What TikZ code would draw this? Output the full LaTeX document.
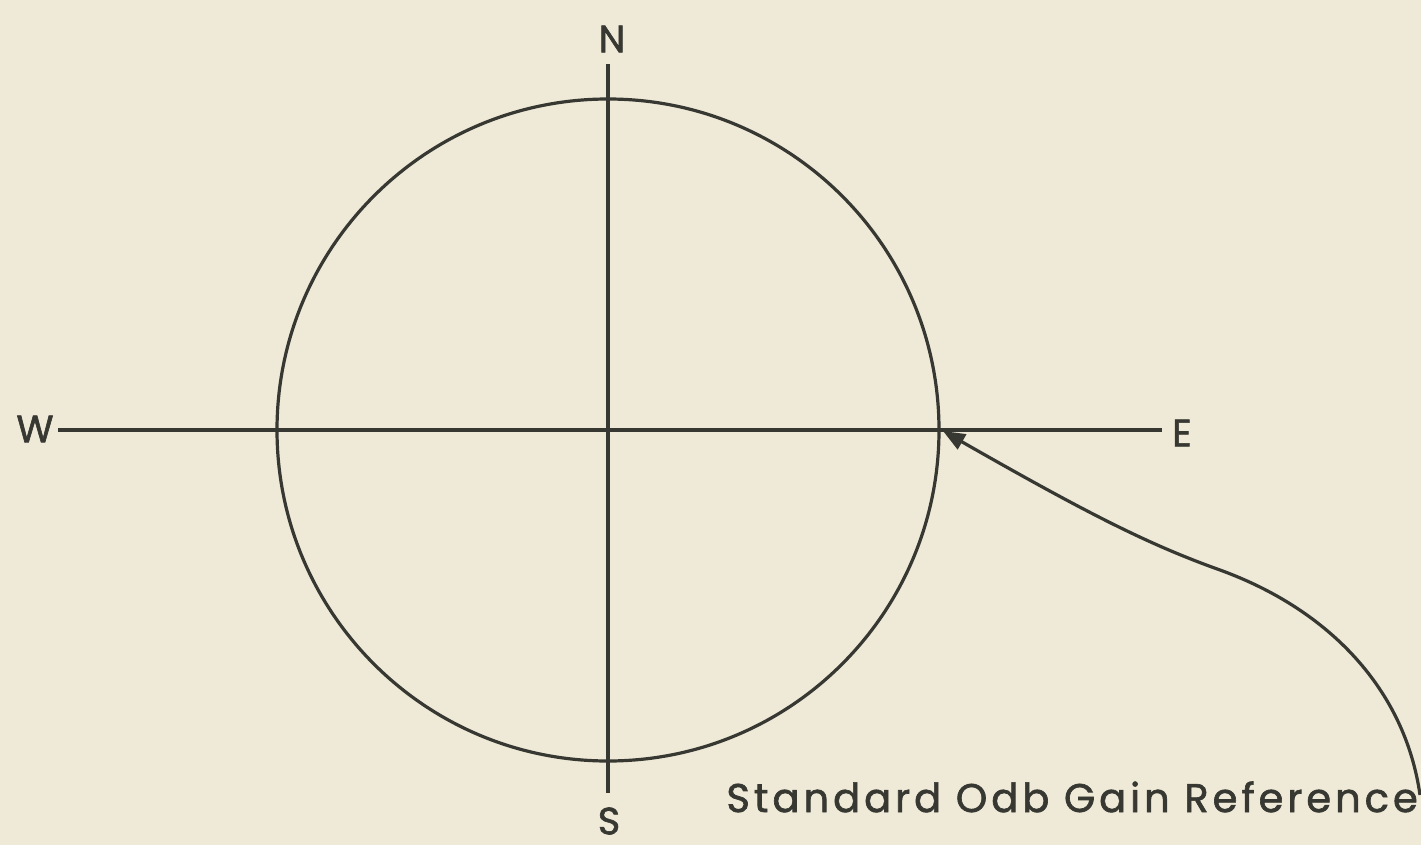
\documentclass[tikz,border=0pt]{standalone}
\usepackage{fontspec}
\setmainfont{Poppins}[FakeBold=1.6]
\usetikzlibrary{arrows.meta}
\definecolor{paper}{HTML}{EFEAD7}
\definecolor{ink}{HTML}{383833}
\begin{document}
\begin{tikzpicture}[x=1pt,y=-1pt,
  inkline/.style={draw=ink,line width=3.2pt},
  compass/.style={text=ink,font=\fontsize{38}{38}\selectfont,inner sep=0pt},
  caption/.style={text=ink,font=\addfontfeatures{LetterSpace=10}\fontsize{40}{40}\selectfont,inner sep=0pt}]
\fill[paper] (0,0) rectangle (1421,845);
\useasboundingbox (0,0) rectangle (1421,845);
\coordinate (C) at (608,430);
\coordinate (top) at (608,64);
\coordinate (bot) at (608,793);
\coordinate (left) at (58,430);
\coordinate (right) at (1162,430);
\node[compass] (N) at (612,39) {N};
\node[compass] (S) at (609,821) {S};
\node[compass] (W) at (35,429) {W};
\node[compass] (E) at (1182,433) {E};
\draw[inkline] (C) circle[radius=331];
\draw[inkline] (top) -- (bot);
\draw[inkline] (left) -- (right);
\node[caption,anchor=base east] (cap) at (1418,812) {Standard Odb Gain Reference};
\coordinate (tip) at (943,431);
\coordinate (tail) at (1420,795);
\draw[inkline,{Triangle[length=22pt,width=17pt]}-] (tip) .. controls (1090,515) and (1150,545) .. (1220,570) .. controls (1330,610) and (1405,690) .. (tail);
\end{tikzpicture}
\end{document}
